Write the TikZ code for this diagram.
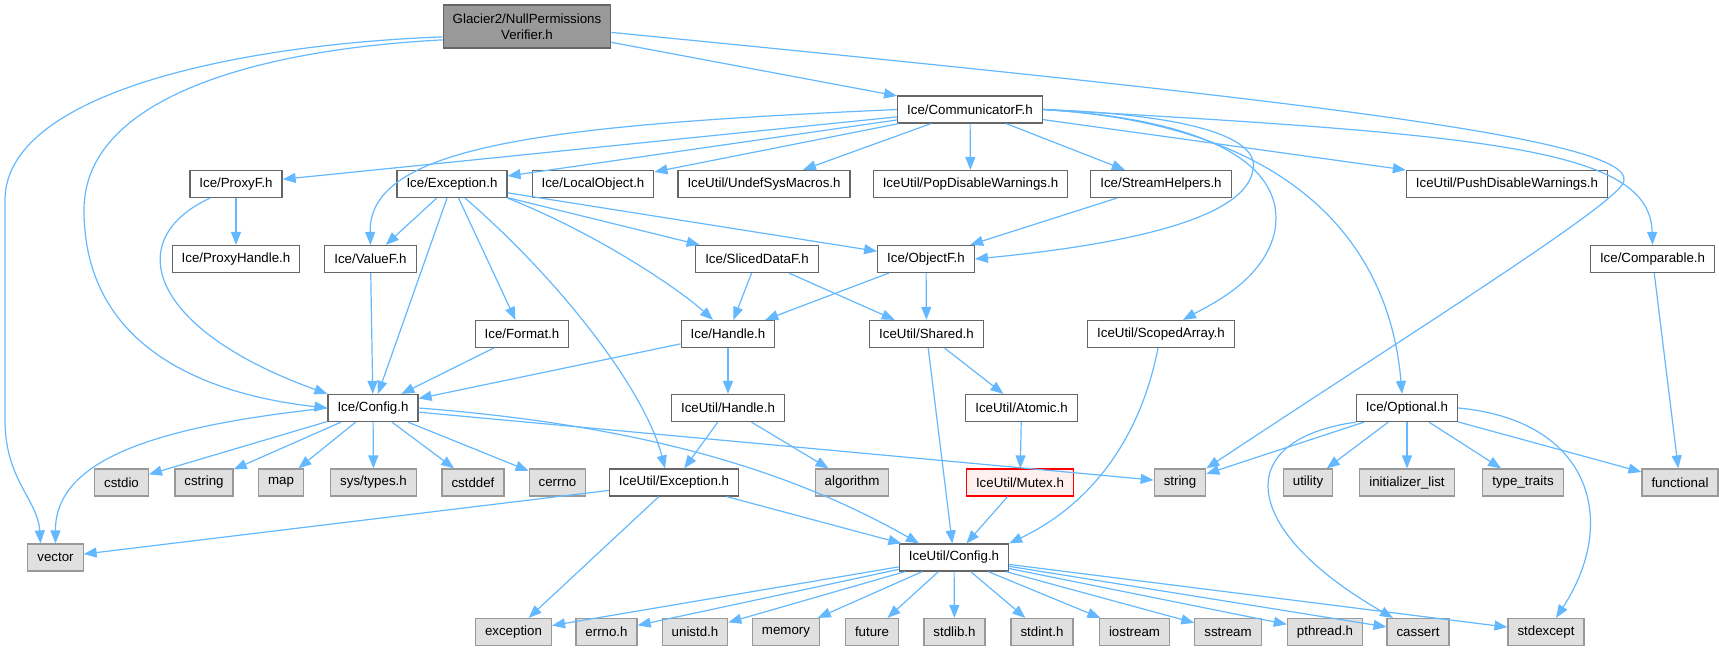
\documentclass[tikz,border=0pt]{standalone}
\usepackage{fontspec}
\setmainfont{Liberation Sans}
\usetikzlibrary{arrows.meta}
\definecolor{edgeblue}{HTML}{63B8FF}
\definecolor{boxline}{HTML}{666666}
\definecolor{sysline}{HTML}{999999}
\definecolor{sysfill}{HTML}{E0E0E0}
\definecolor{rootfill}{HTML}{999999}
\definecolor{mutexfill}{HTML}{FFF0F0}

\begin{document}
\begin{tikzpicture}[x=1pt,y=-1pt,font=\fontsize{13.3}{16}\selectfont,
  hfile/.style={draw=boxline,fill=white,line width=1.2pt,inner xsep=9.5pt,inner ysep=0pt,minimum height=27pt},
  sysfile/.style={hfile,draw=sysline,fill=sysfill},
  rootfile/.style={hfile,fill=rootfill,align=center,minimum height=43pt},
  errfile/.style={hfile,draw=red,fill=mutexfill},
  dep/.style={draw=edgeblue,line width=1.2pt,-{Triangle[length=13pt,width=10pt]}}]
            \useasboundingbox (0,0) rectangle (1719,651);
            \node[rootfile] (root) at (527,26.5) {Glacier2/NullPermissions\\Verifier.h};
            \node[hfile] (commf) at (970,109.5) {Ice/CommunicatorF.h};
            \node[hfile] (proxyf) at (236,184) {Ice/ProxyF.h};
            \node[hfile] (exc) at (452,184) {Ice/Exception.h};
            \node[hfile] (localobj) at (593,184) {Ice/LocalObject.h};
            \node[hfile] (undefsys) at (764,184) {IceUtil/UndefSysMacros.h};
            \node[hfile] (popdis) at (970.5,184) {IceUtil/PopDisableWarnings.h};
            \node[hfile] (streamh) at (1161,184) {Ice/StreamHelpers.h};
            \node[hfile] (pushdis) at (1507,184) {IceUtil/PushDisableWarnings.h};
            \node[hfile] (proxyh) at (236,259) {Ice/ProxyHandle.h};
            \node[hfile] (valuef) at (370.5,259) {Ice/ValueF.h};
            \node[hfile] (sliced) at (757,259) {Ice/SlicedDataF.h};
            \node[hfile] (objectf) at (926,259) {Ice/ObjectF.h};
            \node[hfile] (compar) at (1652.5,259) {Ice/Comparable.h};
            \node[hfile] (format) at (522,334) {Ice/Format.h};
            \node[hfile] (handle) at (728,334) {Ice/Handle.h};
            \node[hfile] (shared) at (926.5,334) {IceUtil/Shared.h};
            \node[hfile] (scoped) at (1161,334) {IceUtil/ScopedArray.h};
            \node[hfile] (config) at (373,408) {Ice/Config.h};
            \node[hfile] (uhandle) at (728,408) {IceUtil/Handle.h};
            \node[hfile] (atomic) at (1021.5,408) {IceUtil/Atomic.h};
            \node[hfile] (optional) at (1407,408) {Ice/Optional.h};
            \node[sysfile] (cstdio) at (121.5,482.5) {cstdio};
            \node[sysfile] (cstring) at (204,482.5) {cstring};
            \node[sysfile] (map) at (281,482.5) {map};
            \node[sysfile] (systypes) at (373.5,482.5) {sys/types.h};
            \node[sysfile] (cstddef) at (473,482.5) {cstddef};
            \node[sysfile] (cerrno) at (557.5,482.5) {cerrno};
            \node[hfile] (uexc) at (674,482.5) {IceUtil/Exception.h};
            \node[sysfile] (algorithm) at (852,482.5) {algorithm};
            \node[errfile] (mutex) at (1020,482.5) {IceUtil/Mutex.h};
            \node[sysfile] (string) at (1180,482.5) {string};
            \node[sysfile] (utility) at (1308,482.5) {utility};
            \node[sysfile] (initlist) at (1407,482.5) {initializer\_list};
            \node[sysfile] (typetr) at (1523,482.5) {type\_traits};
            \node[sysfile] (functional) at (1680,482.5) {functional};
            \node[sysfile] (vector) at (55.5,557.5) {vector};
            \node[hfile] (uconfig) at (954,557.5) {IceUtil/Config.h};
            \node[sysfile] (exception) at (513.5,632) {exception};
            \node[sysfile] (errnoh) at (606.5,632) {errno.h};
            \node[sysfile] (unistd) at (695,632) {unistd.h};
            \node[sysfile] (memory) at (786,632) {memory};
            \node[sysfile] (future) at (872,632) {future};
            \node[sysfile] (stdlib) at (954.5,632) {stdlib.h};
            \node[sysfile] (stdint) at (1042,632) {stdint.h};
            \node[sysfile] (iostream) at (1134.5,632) {iostream};
            \node[sysfile] (sstream) at (1228,632) {sstream};
            \node[sysfile] (pthread) at (1325,632) {pthread.h};
            \node[sysfile] (cassert) at (1418,632) {cassert};
            \node[sysfile] (stdexcept) at (1546,632) {stdexcept};

            \draw[dep] (root.187) .. controls (230,45) and (5,95) .. (5,200) -- (5,420) .. controls (5,480) and (38,500) .. ([xshift=-15pt]vector.north);
            \draw[dep] (root.189) .. controls (250,50) and (84,100) .. (84,210) .. controls (84,350) and (210,395) .. (config.west);
            \draw[dep] (root) -- (commf);
            \draw[dep] (root.356) .. controls (1300,100) and (1655,140) .. (1622,185) .. controls (1600,215) and (1400,340) .. (string.north east);
            \draw[dep] (commf) -- (proxyf);
            \draw[dep] (commf) -- (exc);
            \draw[dep] (commf) -- (localobj);
            \draw[dep] (commf) -- (undefsys);
            \draw[dep] (commf) -- (popdis);
            \draw[dep] (commf) -- (streamh);
            \draw[dep] (commf) -- (pushdis);
            \draw[dep] (commf.west) .. controls (550,125) and (368,145) .. (valuef.north);
            \draw[dep] (commf.east) .. controls (1200,115) and (1260,140) .. (1253,170) .. controls (1245,220) and (1120,245) .. (objectf.east);
            \draw[dep] (commf.east) .. controls (1220,120) and (1285,170) .. (1275,230) .. controls (1265,280) and (1210,305) .. ([xshift=22pt]scoped.north);
            \draw[dep] (commf.east) .. controls (1300,125) and (1390,250) .. ([xshift=-5pt]optional.north);
            \draw[dep] (commf.east) .. controls (1500,135) and (1650,150) .. (compar.north);
            \draw[dep] (proxyf) -- (proxyh);
            \draw[dep] ([xshift=-26pt]proxyf.south) .. controls (120,240) and (150,330) .. (config.north west);
            \draw[dep] (exc) -- (valuef);
            \draw[dep] (exc) -- (config);
            \draw[dep] (exc) -- (format);
            \draw[dep] ([xshift=13pt]exc.south) .. controls (560,280) and (645,390) .. ([xshift=-9pt]uexc.north);
            \draw[dep] (exc.south east) .. controls (600,235) and (680,290) .. ([xshift=-15pt]handle.north);
            \draw[dep] (exc) -- (sliced);
            \draw[dep] (exc) -- (objectf);
            \draw[dep] (valuef) -- (config);
            \draw[dep] (format) -- (config);
            \draw[dep] (handle) -- (config);
            \draw[dep] (handle) -- (uhandle);
            \draw[dep] (sliced) -- (handle);
            \draw[dep] (sliced) -- (shared);
            \draw[dep] (objectf) -- (handle);
            \draw[dep] (objectf) -- (shared);
            \draw[dep] (streamh) -- (objectf);
            \draw[dep] (shared) -- (atomic);
            \draw[dep] (shared) -- (uconfig);
            \draw[dep] ([xshift=-3pt]scoped.south) .. controls (1140,440) and (1090,505) .. (uconfig.north east);
            \draw[dep] (uhandle) -- (uexc);
            \draw[dep] (uhandle) -- (algorithm);
            \draw[dep] (atomic) -- (mutex);
            \draw[dep] (mutex) -- (uconfig);
            \draw[dep] (config.west) .. controls (170,425) and (55,455) .. (vector.north);
            \draw[dep] (config) -- (cstdio);
            \draw[dep] (config) -- (cstring);
            \draw[dep] (config) -- (map);
            \draw[dep] (config) -- (systypes);
            \draw[dep] (config) -- (cstddef);
            \draw[dep] (config) -- (cerrno);
            \draw[dep] (config) -- (string);
            \draw[dep] (config.east) .. controls (640,425) and (790,470) .. ([xshift=-35pt]uconfig.north);
            \draw[dep] (uexc) -- (vector);
            \draw[dep] (uexc) -- (exception);
            \draw[dep] (uexc) -- (uconfig);
            \draw[dep] (optional) -- (string);
            \draw[dep] (optional) -- (utility);
            \draw[dep] (optional) -- (initlist);
            \draw[dep] (optional) -- (typetr);
            \draw[dep] (optional) -- (functional);
            \draw[dep] (optional.south west) .. controls (1230,440) and (1240,530) .. ([xshift=-25pt]cassert.north);
            \draw[dep] (optional.east) .. controls (1590,420) and (1620,520) .. ([xshift=10pt]stdexcept.north);
            \draw[dep] (compar) -- (functional);
            \draw[dep] (uconfig) -- (exception);
            \draw[dep] (uconfig) -- (errnoh);
            \draw[dep] (uconfig) -- (unistd);
            \draw[dep] (uconfig) -- (memory);
            \draw[dep] (uconfig) -- (future);
            \draw[dep] (uconfig) -- (stdlib);
            \draw[dep] (uconfig) -- (stdint);
            \draw[dep] (uconfig) -- (iostream);
            \draw[dep] (uconfig) -- (sstream);
            \draw[dep] (uconfig) -- (pthread);
            \draw[dep] (uconfig) -- (cassert);
            \draw[dep] (uconfig) -- (stdexcept);
        \end{tikzpicture}
\end{document}
